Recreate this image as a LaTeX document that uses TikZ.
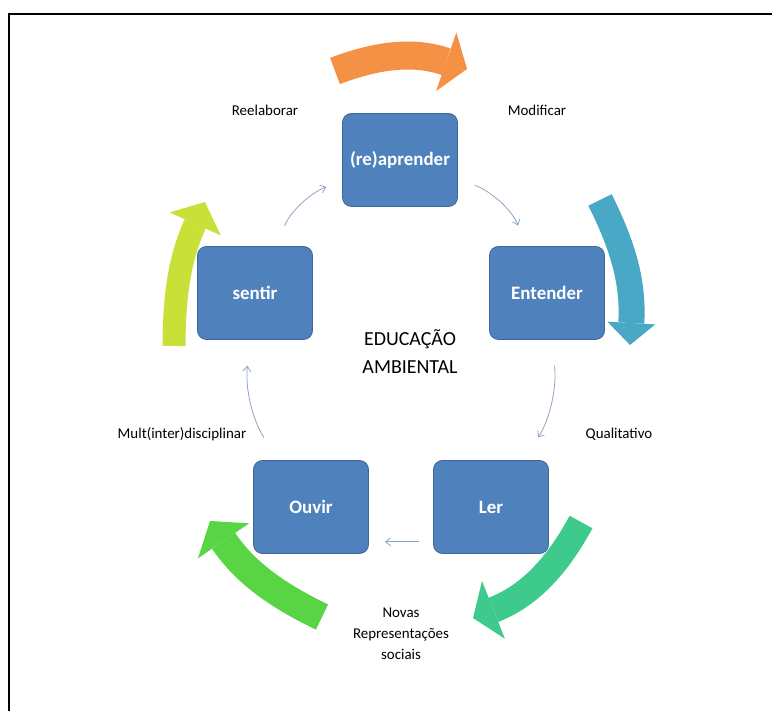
\documentclass[tikz,border=0pt]{standalone}
\usepackage{fontspec}
\setmainfont{Carlito}
\usetikzlibrary{arrows.meta,positioning}

\definecolor{caixa}{RGB}{79,129,189}
\definecolor{borda}{RGB}{62,102,155}
\definecolor{fio}{RGB}{140,165,195}
\definecolor{laranja}{RGB}{245,145,68}
\definecolor{azulagua}{RGB}{72,168,198}
\definecolor{verdeagua}{RGB}{62,202,140}
\definecolor{verde}{RGB}{88,212,68}
\definecolor{lima}{RGB}{200,224,55}

\tikzset{
  etapa/.style={draw=borda, fill=caixa, rounded corners=9bp, line width=0.8bp,
    minimum width=115bp, minimum height=93bp, text=white,
    font=\fontsize{19}{22}\selectfont\bfseries},
  rotulo/.style={font=\fontsize{15}{21}\selectfont, align=center},
  ciclo/.style={draw=fio, line width=0.8bp, -{Straight Barb[length=5bp,width=8bp]}},
  seta/.style={line width=#1, line cap=butt}
}

\begin{document}
\begin{tikzpicture}[x=1bp, y=1bp, on grid]
  \useasboundingbox (0,0) rectangle (772,711);
  % moldura
  \draw[line width=2.5bp] (9,0) -- (9,697) -- (772,697);

  % etapas do ciclo
  \node[etapa] (reap) at (400,551) {(re)aprender};
  \node[etapa] (ent)  at (547,418) {Entender};
  \node[etapa] (ler)  at (491,204) {Ler};
  \node[etapa] (ouv)  at (311,204) {Ouvir};
  \node[etapa] (sen)  at (255,418) {sentir};
  \node[font=\fontsize{20}{28}\selectfont, align=center] (ea) at (410,359) {EDUCAÇÃO\\AMBIENTAL};

  % rotulos
  \node[rotulo, above left=50bp and 135bp of reap] (reel) {Reelaborar};
  \node[rotulo, above right=50bp and 137bp of reap] (modi) {Modificar};
  \node[rotulo, below right=141bp and 72bp of ent] (qual) {Qualitativo};
  \node[rotulo, below left=141bp and 73bp of sen] (mult) {Mult(inter)disciplinar};
  \node[rotulo, below left=127bp and 90bp of ler] (nova) {Novas\\Representações\\sociais};

  % setas finas
  \draw[ciclo, shorten <=22bp, shorten >=17bp] (sen) to[bend left=23] (reap);
  \draw[ciclo, shorten <=18bp, shorten >=22bp] (reap) to[bend left=24] (ent);
  \draw[ciclo, shorten <=26bp, shorten >=27bp] (ent) to[bend left=20] (ler);
  \draw[ciclo, shorten <=14bp, shorten >=16bp] (ler.211) -- (ouv.329);
  \draw[ciclo, shorten <=27bp, shorten >=26bp] (ouv) to[bend left=20] (sen);

  % setas grandes
  \draw[seta=28bp, laranja, -{Triangle[length=22bp,width=62bp,line width=0pt]}]
    (335,640) to[bend left=20] (467,642);
  \draw[seta=26bp, azulagua, -{Triangle[length=22bp,width=48bp,line width=0pt]}]
    (600,511) to[bend left=15] (630,366);
  \draw[seta=26bp, verdeagua, -{Triangle[length=22bp,width=62bp,line width=0pt]}]
    (581,189) to[bend left=20] (473,93);
  \draw[seta=28bp, verde, -{Triangle[length=24bp,width=62bp,line width=0pt]}]
    (322,94) to[bend left=15] (210,190);
  \draw[seta=23bp, lima, -{Triangle[length=24bp,width=56bp,line width=0pt]}]
    (174,365) to[bend left=12] (205,509);
\end{tikzpicture}
\end{document}
